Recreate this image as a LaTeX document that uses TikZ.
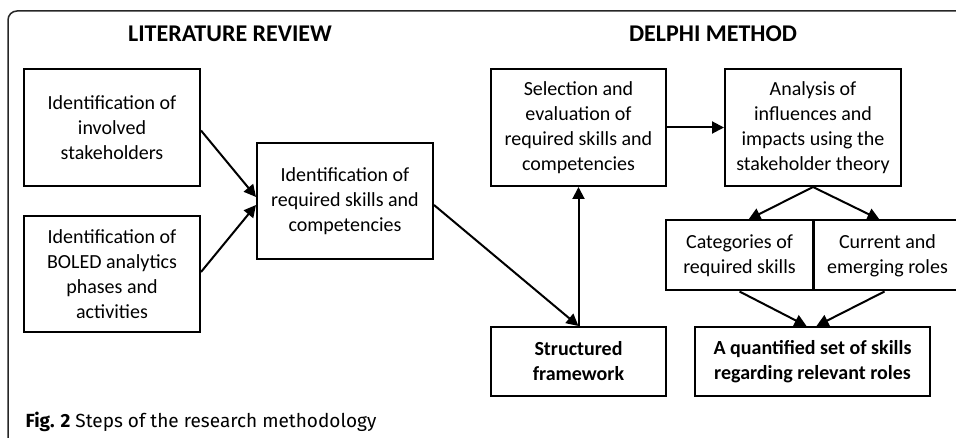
\documentclass[tikz,border=0pt]{standalone}
\usepackage{fontspec}
\setmainfont{Carlito}
\newfontfamily\capfont{Fira Sans}
\usepackage{tikz}
\usetikzlibrary{arrows.meta, positioning}

\tikzset{
  stepbox/.style={draw, line width=2pt, align=center, inner sep=0pt,
    font=\fontsize{20}{25}\selectfont},
  titletext/.style={font=\fontsize{24}{28}\selectfont\bfseries},
  flow/.style={-{Triangle[length=12pt,width=12pt]}, line width=2pt},
}

\begin{document}
\begin{tikzpicture}[x=1pt, y=-1pt]
  \useasboundingbox (0,0) rectangle (956,438);
  % 外框
  \draw[line width=1.5pt, black!85, rounded corners=9pt] (8,445) -- (8,11) -- (965,11);

  % 标题
  \node[titletext] (lrtitle) at (230,34) {LITERATURE REVIEW};
  \node[titletext] (dmtitle) at (713,34) {DELPHI METHOD};

  % 左边:文献综述
  \node[stepbox, minimum width=176pt, minimum height=117pt] (stake) at (112,127.5)
    {Identification of\\involved\\stakeholders};
  \node[stepbox, minimum width=176pt, minimum height=116pt] (phases) at (112,274)
    {Identification of\\BOLED analytics\\phases and\\activities};
  \node[stepbox, minimum width=176pt, minimum height=116pt] (skills) at (345,201)
    {Identification of\\required skills and\\competencies};

  % 右边:德尔菲法
  \node[stepbox, minimum width=175pt, minimum height=117pt] (select) at (578.5,127.5)
    {Selection and\\evaluation of\\required skills and\\competencies};
  \node[stepbox, minimum width=176pt, minimum height=117pt] (analysis) at (813,127.5)
    {Analysis of\\influences and\\impacts using the\\stakeholder theory};
  \node[stepbox, minimum width=147pt, minimum height=70pt] (categ) at (739.5,255.5)
    {Categories of\\required skills};
  \node[stepbox, minimum width=147pt, minimum height=70pt, anchor=west] (roles) at (813,255.5)
    {Current and\\emerging roles};
  \node[stepbox, minimum width=175pt, minimum height=69pt, font=\fontsize{20}{25}\selectfont\bfseries] (frame) at (578.5,361.5)
    {Structured\\framework};
  \node[stepbox, minimum width=235pt, minimum height=69pt, font=\fontsize{20}{25}\selectfont\bfseries] (quant) at (812.5,361.5)
    {A quantified set of skills\\regarding relevant roles};

  % 箭头
  \draw[flow] ([yshift=-3pt]stake.east) -- ([yshift=4pt]skills.west);
  \draw[flow] ([yshift=2pt]phases.east) -- ([yshift=-4pt]skills.west);
  \draw[flow] ([yshift=-4pt]skills.east) -- (frame.north);
  \draw[flow] (frame.north) -- (select.south);
  \draw[flow] (select.east) -- (analysis.west);
  \draw[flow] (analysis.south) -- ([xshift=9pt]categ.north);
  \draw[flow] (analysis.south) -- ([xshift=-8pt]roles.north);
  \draw[flow] (categ.south) -- ([xshift=-6pt]quant.north);
  \draw[flow] ([xshift=-3pt]roles.south) -- ([xshift=4pt]quant.north);

  % 图注
  \node[anchor=west, font=\fontsize{19}{22}\capfont] (caption) at (22,422)
    {\textbf{Fig. 2} Steps of the research methodology};
\end{tikzpicture}
\end{document}
